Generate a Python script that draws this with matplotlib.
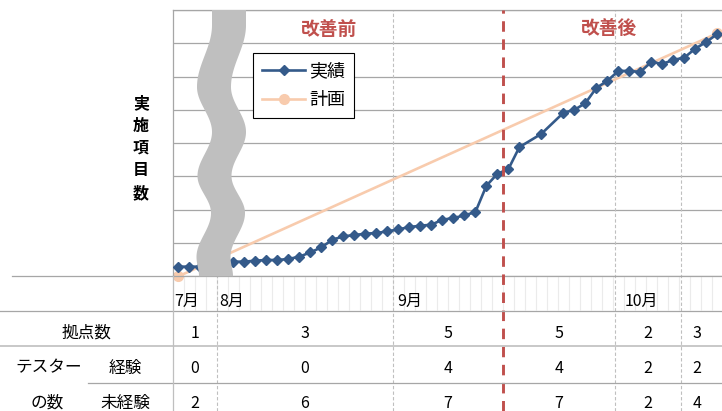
import numpy as np
import matplotlib
matplotlib.use("Agg")
import matplotlib.pyplot as plt
from matplotlib.lines import Line2D
from matplotlib.patches import Polygon

plt.rcParams['font.family'] = ['Noto Sans CJK JP', 'DejaVu Sans']

# 実績 (週ごとの累計, 2点は欠測 -> 線でつなぐ)
weeks = np.arange(50)
actual = np.array([
    2.9, 2.9, 2.9, 3.3, 4.0, 4.4, 4.4, 4.7, 4.9, 4.9,
    5.2, 5.9, 7.2, 8.7, 11.0, 12.0, 12.4, 12.8, 13.0, 13.5,
    14.1, 14.8, 15.2, 15.5, 17.0, 17.5, 18.3, 19.3, 27.2, 30.8,
    32.2, 38.8, np.nan, 42.8, np.nan, 49.1, 50.0, 52.0, 56.6, 58.7,
    61.7, 61.7, 61.4, 64.4, 63.8, 65.0, 65.7, 68.4, 70.4, 72.8,
])
# 計画 (始点と終点のみ)
plan_weeks = [0, 49]
plan = [0, 73]

months = ['7月', '8月', '9月', '10月']
month_pos = [-0.4, 3.75, 19.85, 40.6]

# 表の列区切り (カテゴリ境界)
col_edges = [-0.5, 3.5, 19.5, 29.5, 39.7, 45.7, 48.6]
sites = [1, 3, 5, 5, 2, 3]
exp_testers = [0, 0, 4, 4, 2, 2]
new_testers = [2, 6, 7, 7, 2, 4]
phase_split = 29.5

W, H = 722, 411
fig = plt.figure(figsize=(W / 100, H / 100), dpi=100)


def fx(px):
    return px / W


def fy(py):
    return 1 - py / H


AX_TOP, AX_BOT = 10, 276.3
ax = fig.add_axes([fx(173), fy(AX_BOT), fx(722.8) - fx(173), fy(AX_TOP) - fy(AX_BOT)])


def ay(py):
    # pixel row -> axes fraction (for text below the axis)
    return (AX_BOT - py) / (AX_BOT - AX_TOP)


grid_c = '#A6A6A6'
ax.set_yticks(np.arange(0, 81, 10))
ax.grid(axis='y', color=grid_c, lw=0.9, zorder=0)
ax.tick_params(axis='y', length=0, labelleft=False)
ax.set_xticks(np.arange(-0.5, 50, 1))
ax.tick_params(axis='x', length=24.5, color='#EBEBEB', width=0.8, labelbottom=False)
for s in ['top', 'left', 'bottom']:
    ax.spines[s].set_color(grid_c)
    ax.spines[s].set_linewidth(0.9)
ax.spines['right'].set_visible(False)
ax.set_axisbelow(True)

# series
ok = ~np.isnan(actual)
ax.plot(weeks[ok], actual[ok], color='#345A8A', lw=1.9, marker='D', ms=5.2,
        label='実績', zorder=3)
ax.plot(plan_weeks, plan, color='#F8CBAD', lw=1.9, marker='o', ms=7,
        label='計画', zorder=2, clip_on=False)

# month separators
ext = -(H - AX_BOT) / (AX_BOT - AX_TOP)
for b in [3.5, 19.5, 39.7, 45.7]:
    ax.axvline(b, ymin=ext, ymax=1, clip_on=False, color='#BFBFBF', lw=0.8,
               ls=(0, (3, 2)), zorder=1)
ax.axvline(phase_split, ymin=ext, ymax=1, clip_on=False, color='#C0504D', lw=2.1,
           ls=(0, (3.6, 2.6)), zorder=5)

ax.set_xlim(-0.5, 49.5)
ax.set_ylim(0, 80)

# table rules
rule_kw = dict(transform=fig.transFigure, lw=0.9)
fig.add_artist(Line2D([fx(12), fx(173)], [fy(AX_BOT)] * 2, color=grid_c, **rule_kw))
fig.add_artist(Line2D([0, 1], [fy(311.3)] * 2, color=grid_c, **rule_kw))
fig.add_artist(Line2D([0, 1], [fy(346)] * 2, color='#C4C4C4', lw=1.3, transform=fig.transFigure))
fig.add_artist(Line2D([fx(88), 1], [fy(382.7)] * 2, color=grid_c, **rule_kw))
fig.add_artist(Line2D([fx(173)] * 2, [fy(AX_BOT), 0], color='#BFBFBF', **rule_kw))

# month labels
for m, p in zip(months, month_pos):
    ax.text(p, ay(301), m, transform=ax.get_xaxis_transform(), ha='left',
            va='center', fontsize=11.5)

# table values
centers = [(a + b) / 2 for a, b in zip(col_edges[:-1], col_edges[1:])]
for row, py in [(sites, 333), (exp_testers, 368), (new_testers, 403)]:
    for c, v in zip(centers, row):
        ax.text(c, ay(py), str(v), transform=ax.get_xaxis_transform(),
                ha='center', va='center', fontsize=11.5)

for txt, x, y in [('拠点数', 86, 333), ('テスター', 49, 368), ('経験', 125, 368),
                  ('の数', 47, 403), ('未経験', 125, 403)]:
    fig.text(fx(x), fy(y), txt, ha='center', va='center', fontsize=12)

# phase titles
fig.text(fx(329), fy(29), '改善前', ha='center', va='center', fontsize=13.5,
         fontweight='bold', color='#C0504D')
fig.text(fx(609), fy(29), '改善後', ha='center', va='center', fontsize=13.5,
         fontweight='bold', color='#C0504D')

# y label (vertical)
fig.text(fx(141), fy(148), '\n'.join('実施項目数'), ha='center', va='center',
         fontsize=11.5, fontweight='bold', linespacing=1.5)

# wave-shaped break mark
ctrl_y = [10, 25, 87, 132, 176, 213, 257, AX_BOT]
ctrl_x = [229, 229, 214, 229, 214.5, 228, 213.5, 216]
yy = np.linspace(AX_TOP, AX_BOT, 300)
cx = np.empty_like(yy)
for i in range(len(ctrl_y) - 1):
    m = (yy >= ctrl_y[i]) & (yy <= ctrl_y[i + 1])
    t = (yy[m] - ctrl_y[i]) / (ctrl_y[i + 1] - ctrl_y[i])
    cx[m] = ctrl_x[i] + (ctrl_x[i + 1] - ctrl_x[i]) * (1 - np.cos(np.pi * t)) / 2
cx[yy < ctrl_y[1]] = ctrl_x[0]
half = 17
pts = np.concatenate([np.column_stack([cx - half, yy]),
                      np.column_stack([cx[::-1] + half, yy[::-1]])])
fig.add_artist(Polygon(np.column_stack([fx(pts[:, 0]), fy(pts[:, 1])]),
                       closed=True, transform=fig.transFigure,
                       fc='#BFBFBF', ec='none', zorder=4))

leg = ax.legend(loc='upper left', bbox_to_anchor=(fx(253), fy(53)),
                bbox_transform=fig.transFigure, borderaxespad=0, fontsize=13,
                frameon=True, fancybox=False, edgecolor='black', framealpha=1,
                handlelength=2.4, handletextpad=0.2, borderpad=0.5,
                labelspacing=0.6, numpoints=1)
leg.get_frame().set_linewidth(0.8)
leg.set_zorder(6)

fig.savefig('out.png', dpi=100)
